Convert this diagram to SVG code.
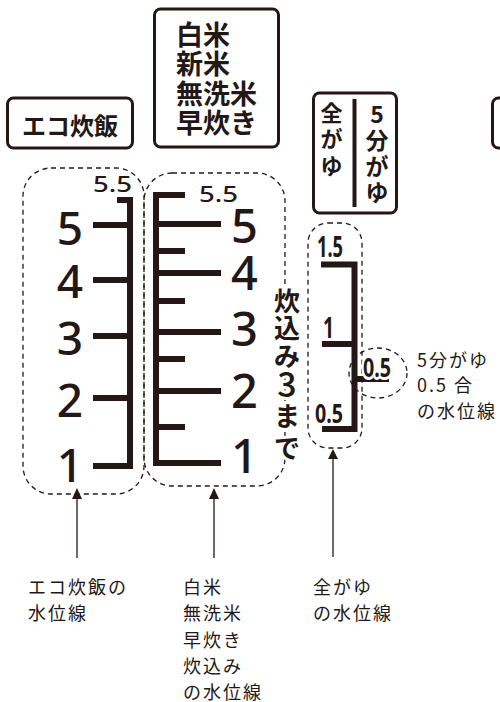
<svg xmlns="http://www.w3.org/2000/svg" width="500" height="702" viewBox="0 0 500 702">
<defs>
<style>
.box{fill:none;stroke:#231815;stroke-width:3}
.dash{fill:none;stroke:#231815;stroke-width:1.3;stroke-dasharray:5 4}
.scale{fill:none;stroke:#231815;stroke-width:6;stroke-linejoin:miter;stroke-linecap:butt}
.jb{font-family:"Noto Sans CJK JP","Noto Sans",sans-serif;font-weight:700;fill:#231815}
.jr{font-family:"Noto Sans CJK JP","Noto Sans",sans-serif;font-weight:400;fill:#231815;letter-spacing:2px}
.num{font-family:"Noto Sans","Open Sans",sans-serif;font-weight:500;fill:#231815}
.numb{font-family:"Noto Sans","Open Sans",sans-serif;font-weight:700;fill:#231815}
.halo{stroke:#fff;stroke-width:6;paint-order:stroke;stroke-linejoin:round}
.arrow{stroke:#231815;stroke-width:1.3;fill:none}
.head{fill:#231815}
</style>
</defs>
<rect width="500" height="702" fill="#fff"/>

<g id="title-eco">
<rect class="box" x="7.5" y="98" width="125" height="50" rx="6"/>
<text class="jb" x="70" y="135" font-size="24" text-anchor="middle">エコ炊飯</text>
</g>

<g id="title-hakumai">
<rect class="box" x="154.5" y="9" width="124" height="138" rx="6"/>
<text class="jb" x="176" font-size="27"><tspan x="176" y="45">白米</tspan><tspan x="176" y="74">新米</tspan><tspan x="176" y="104">無洗米</tspan><tspan x="176" y="133">早炊き</tspan></text>
</g>

<g id="title-kayu">
<rect class="box" x="313.5" y="93" width="83" height="120" rx="6"/>
<line x1="354.5" y1="99" x2="354.5" y2="207" stroke="#231815" stroke-width="4"/>
<text class="jb" font-size="22" text-anchor="middle"><tspan x="331.5" y="121">全</tspan><tspan x="331.5" y="147">が</tspan><tspan x="331.5" y="174">ゆ</tspan></text>
<text class="jb" font-size="23" text-anchor="middle"><tspan x="377" y="123">5</tspan><tspan x="377" y="149">分</tspan><tspan x="377" y="175">が</tspan><tspan x="377" y="201">ゆ</tspan></text>
</g>

<g id="title-partial">
<rect class="box" x="492.5" y="98" width="40" height="50" rx="6"/>
</g>

<g id="scale-eco">
<rect class="dash" x="23" y="168" width="121" height="326" rx="28"/>
<path class="scale" d="M117 200 H130 V466 H93"/>
<path class="scale" d="M93 225 H130 M93 280 H130 M93 336 H130 M93 398 H130"/>
<text class="num" x="132" y="192" font-size="21" text-anchor="end" textLength="39" lengthAdjust="spacingAndGlyphs">5.5</text>
<text class="num" font-size="46" text-anchor="end"><tspan x="83" y="245">5</tspan><tspan x="83" y="298">4</tspan><tspan x="83" y="355">3</tspan><tspan x="83" y="417">2</tspan><tspan x="83" y="482">1</tspan></text>
</g>

<g id="scale-hakumai">
<rect class="dash" x="144" y="173" width="141" height="313" rx="28"/>
<path class="scale" d="M185 195 H156 V463 H221"/>
<path class="scale" d="M156 224 H221 M156 273 H221 M156 332 H221 M156 391 H221"/>
<path class="scale" d="M156 251 H185 M156 301 H185 M156 359 H185 M156 427 H185"/>
<text class="num" x="199" y="202" font-size="21" textLength="39" lengthAdjust="spacingAndGlyphs">5.5</text>
<text class="num" font-size="47"><tspan x="231" y="243">5</tspan><tspan x="231" y="290">4</tspan><tspan x="231" y="346">3</tspan><tspan x="231" y="408">2</tspan><tspan x="231" y="473">1</tspan></text>
<text class="jb halo" font-size="26" text-anchor="middle"><tspan x="287" y="311">炊</tspan><tspan x="287" y="338">込</tspan><tspan x="287" y="366">み</tspan><tspan x="287" y="397" font-size="34" font-weight="500">3</tspan><tspan x="287" y="426">ま</tspan><tspan x="287" y="458">で</tspan></text>
</g>

<g id="scale-kayu">
<rect class="dash" x="308" y="223" width="54" height="225" rx="20"/>
<ellipse class="dash" cx="378" cy="373" rx="29" ry="25"/>
<path class="scale" d="M321 264.5 H354.5 V429 H322"/>
<path class="scale" d="M322 344 H354.5 M354.5 379 H389"/>
<text class="numb" x="317" y="257" font-size="28" textLength="26" lengthAdjust="spacingAndGlyphs">1.5</text>
<text class="numb" x="323" y="338" font-size="28" textLength="11" lengthAdjust="spacingAndGlyphs">1</text>
<text class="numb" x="315" y="423" font-size="26" textLength="28" lengthAdjust="spacingAndGlyphs">0.5</text>
<text class="numb halo" x="363" y="377" font-size="27" textLength="28" lengthAdjust="spacingAndGlyphs">0.5</text>
</g>

<g id="note-gobu">
<text class="jr" font-size="18" letter-spacing="1.5"><tspan x="417" y="367">5分がゆ</tspan><tspan x="417" y="392">0.5 合</tspan><tspan x="417" y="418">の水位線</tspan></text>
</g>

<g id="connectors">
<line class="arrow" x1="77" y1="558" x2="77" y2="496"/>
<polygon class="head" points="77,488 72,499 82,499"/>
<line class="arrow" x1="214" y1="558" x2="214" y2="496"/>
<polygon class="head" points="214,488 209,499 219,499"/>
<line class="arrow" x1="333" y1="557" x2="333" y2="456"/>
<polygon class="head" points="333,449 328,459 338,459"/>
</g>

<g id="label-eco">
<text class="jr" font-size="18"><tspan x="28" y="594">エコ炊飯の</tspan><tspan x="28" y="620">水位線</tspan></text>
</g>
<g id="label-hakumai">
<text class="jr" font-size="18"><tspan x="183" y="594">白米</tspan><tspan x="183" y="620">無洗米</tspan><tspan x="183" y="647">早炊き</tspan><tspan x="183" y="673">炊込み</tspan><tspan x="183" y="699">の水位線</tspan></text>
</g>
<g id="label-kayu">
<text class="jr" font-size="18"><tspan x="313" y="594">全がゆ</tspan><tspan x="313" y="620">の水位線</tspan></text>
</g>
</svg>
